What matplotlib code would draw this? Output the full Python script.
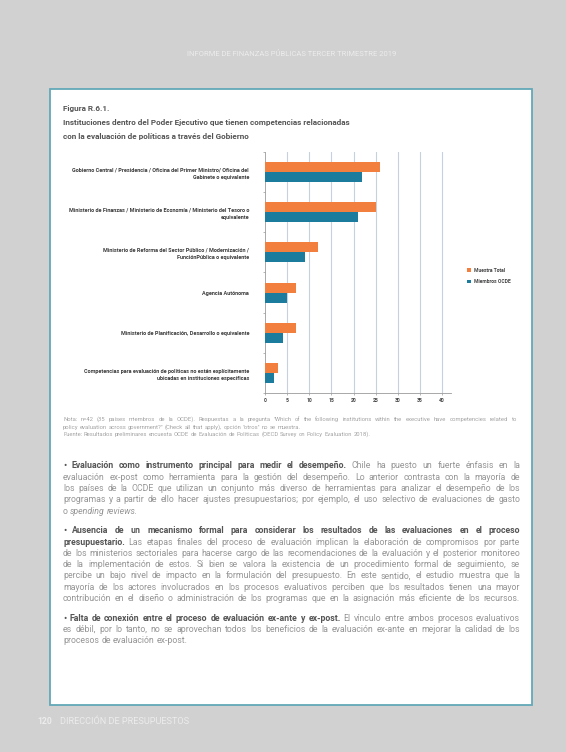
import matplotlib
matplotlib.use("Agg")
import matplotlib.pyplot as plt
from matplotlib.patches import Rectangle
import numpy as np

# datos del grafico
categorias = [
    "Gobierno Central / Presidencia / Oficina del Primer Ministro/ Oficina del\nGabinete o equivalente",
    "Ministerio de Finanzas / Ministerio de Economía / Ministerio del Tesoro o\nequivalente",
    "Ministerio de Reforma del Sector Público / Modernización /\nFunciónPública o equivalente",
    "Agencia Autónoma",
    "Ministerio de Planificación, Desarrollo o equivalente",
    "Competencias para evaluación de políticas no están explícitamente\nubicadas en instituciones específicas",
]
muestra_total = [26, 25, 12, 7, 7, 3]
miembros_ocde = [22, 21, 9, 5, 4, 2]
series = ["Muestra Total", "Miembros OCDE"]
ticks_x = [0, 5, 10, 15, 20, 25, 30, 35, 40]

encabezado = "INFORME DE FINANZAS PÚBLICAS TERCER TRIMESTRE 2019"
pie_num = "120"
pie_txt = "DIRECCIÓN DE PRESUPUESTOS"
titulo = ["Figura R.6.1.",
          "Instituciones dentro del Poder Ejecutivo que tienen competencias relacionadas",
          "con la evaluación de políticas a través del Gobierno"]
nota = ["Nota: n=42 (35 países miembros de la OCDE). Respuestas a la pregunta \"Which of the following institutions within the executive have competencies related to",
        "policy evaluation across government?\" (Check all that apply), opción \"otros\" no se muestra.",
        "Fuente: Resultados preliminares encuesta OCDE de Evaluación de Políticas (OECD Survey on Policy Evaluation 2018)."]

# cada linea: lista de (texto, estilo)  b=negrita r=normal i=cursiva
parrafo1 = [
    [("• Evaluación como instrumento principal para medir el desempeño.", "b"), ("Chile ha puesto un fuerte énfasis en la", "r")],
    [("evaluación ex-post como herramienta para la gestión del desempeño. Lo anterior contrasta con la mayoría de", "r")],
    [("los países de la OCDE que utilizan un conjunto más diverso de herramientas para analizar el desempeño de los", "r")],
    [("programas y a partir de ello hacer ajustes presupuestarios; por ejemplo, el uso selectivo de evaluaciones de gasto", "r")],
    [("o", "r"), ("spending reviews.", "i")],
]
parrafo2 = [
    [("• Ausencia de un mecanismo formal para considerar los resultados de las evaluaciones en el proceso", "b")],
    [("presupuestario.", "b"), ("Las etapas finales del proceso de evaluación implican la elaboración de compromisos por parte", "r")],
    [("de los ministerios sectoriales para hacerse cargo de las recomendaciones de la evaluación y el posterior monitoreo", "r")],
    [("de la implementación de estos. Si bien se valora la existencia de un procedimiento formal de seguimiento, se", "r")],
    [("percibe un bajo nivel de impacto en la formulación del presupuesto. En este sentido, el estudio muestra que la", "r")],
    [("mayoría de los actores involucrados en los procesos evaluativos perciben que los resultados tienen una mayor", "r")],
    [("contribución en el diseño o administración de los programas que en la asignación más eficiente de los recursos.", "r")],
]
parrafo3 = [
    [("• Falta de conexión entre el proceso de evaluación ex-ante y ex-post.", "b"), ("El vínculo entre ambos procesos evaluativos", "r")],
    [("es débil, por lo tanto, no se aprovechan todos los beneficios de la evaluación ex-ante en mejorar la calidad de los", "r")],
    [("procesos de evaluación ex-post.", "r")],
]

naranjo = "#f37f3f"
azul = "#1b7c9e"
estrecha = ["Roboto", "DejaVu Sans"]
cuerpo = ["Roboto", "DejaVu Sans"]

W, H = 566, 752
fig = plt.figure(figsize=(W / 100, H / 100), dpi=100)
fig.patch.set_facecolor("#d1d1d1")


def fx(px):
    return px / W


def fy(py):
    return 1 - py / H


# caja blanca
fig.patches.append(Rectangle((fx(50), fy(705)), fx(532) - fx(50), fy(89) - fy(705),
                             transform=fig.transFigure, facecolor="white",
                             edgecolor="#62a9b8", lw=1.3, zorder=-5))

fig.text(fx(292), fy(53), encabezado, fontsize=5.5, color="#ececec", ha="center",
         va="center", family=cuerpo)
fig.text(fx(37), fy(722), pie_num, fontsize=6.2, color="#ececec", ha="left", va="center",
         fontweight="bold", family=cuerpo)
fig.text(fx(60), fy(722), pie_txt, fontsize=6.6, color="#ececec", ha="left", va="center",
         family=cuerpo)

for txt, yy in zip(titulo, [109, 123, 136]):
    fig.text(fx(63), fy(yy), txt, fontsize=5.9, fontweight="bold", color="#555555",
             ha="left", va="center", family=estrecha)

# grafico
ax = fig.add_axes([fx(265), fy(393.3), fx(451) - fx(265), fy(151.7) - fy(393.3)])
ax.set_zorder(2)
ax.patch.set_alpha(0)
y = np.arange(len(categorias))
ax.barh(y - 0.125, muestra_total, height=0.25, color=naranjo, label=series[0], zorder=3)
ax.barh(y + 0.125, miembros_ocde, height=0.25, color=azul, label=series[1], zorder=3)
ax.set_xlim(0, 42)
ax.set_ylim(len(categorias) - 0.5, -0.5)
ax.set_xticks(ticks_x)
ax.set_xticklabels([str(t) for t in ticks_x], fontsize=3.6, color="#444444",
                   family=cuerpo, fontweight="bold")
ax.set_yticks(y)
ax.set_yticklabels(categorias, fontsize=3.95, fontweight="bold", color="#3d3d3d",
                   family=estrecha, linespacing=1.65)
ax.set_yticks(np.arange(len(categorias) + 1) - 0.5, minor=True)
ax.tick_params(axis="y", which="major", length=0, pad=11.5)
ax.tick_params(axis="y", which="minor", length=1.6, width=0.5, color="#999999")
ax.tick_params(axis="x", length=1.6, width=0.5, color="#999999", pad=2)
for t in ticks_x[1:]:
    ax.axvline(t, color="#c7d1dd", lw=0.8, zorder=1)
for s in ["top", "right"]:
    ax.spines[s].set_visible(False)
for s in ["left", "bottom"]:
    ax.spines[s].set_color("#9a9a9a")
    ax.spines[s].set_linewidth(0.6)

leg = ax.legend(loc="center left", bbox_to_anchor=(fx(462), fy(276)),
                bbox_transform=fig.transFigure, frameon=False,
                handlelength=0.8, handleheight=0.8, labelspacing=1.3,
                handletextpad=0.6, prop={"family": estrecha, "weight": "bold", "size": 3.6})
for t in leg.get_texts():
    t.set_color("#444444")

renderer = fig.canvas.get_renderer()


def linea(segs, x0, x1, yy, justificar=True, size=6.3, col="#959595", colb="#555555"):
    # yy es el centro de la linea en pixeles; se coloca la linea base un poco mas abajo
    base = yy + size * 100 / 72 * 0.27
    palabras = []
    for txt, st in segs:
        for w in txt.split():
            palabras.append((w, st))
    arts, anchos = [], []
    for w, st in palabras:
        t = fig.text(0, fy(base), w, fontsize=size, family=cuerpo,
                     fontweight="bold" if st == "b" else "normal",
                     fontstyle="italic" if st == "i" else "normal",
                     color=colb if st == "b" else col, ha="left", va="baseline")
        anchos.append(t.get_window_extent(renderer).width)
        arts.append(t)
    esp = size * 100 / 72 * 0.26
    if justificar and len(arts) > 1:
        esp = max((x1 - x0 - sum(anchos)) / (len(arts) - 1), 1.0)
    x = x0
    for t, a in zip(arts, anchos):
        t.set_x(fx(x))
        x += a + esp


for i, txt in enumerate(nota):
    linea([(txt, "r")], 63, 517, 419.5 + 7.5 * i, justificar=(i == 0), size=4.2, col="#a3a3a3")

paso, salto = 11.3, 19.7
y0 = 466
for par in [parrafo1, parrafo2, parrafo3]:
    for i, segs in enumerate(par):
        ultima = (i == len(par) - 1)
        linea(segs, 63, 520, y0 + paso * i, justificar=(not ultima) or par is parrafo2)
    y0 = y0 + paso * (len(par) - 1) + salto

fig.savefig("out.png", dpi=100, facecolor=fig.get_facecolor())
